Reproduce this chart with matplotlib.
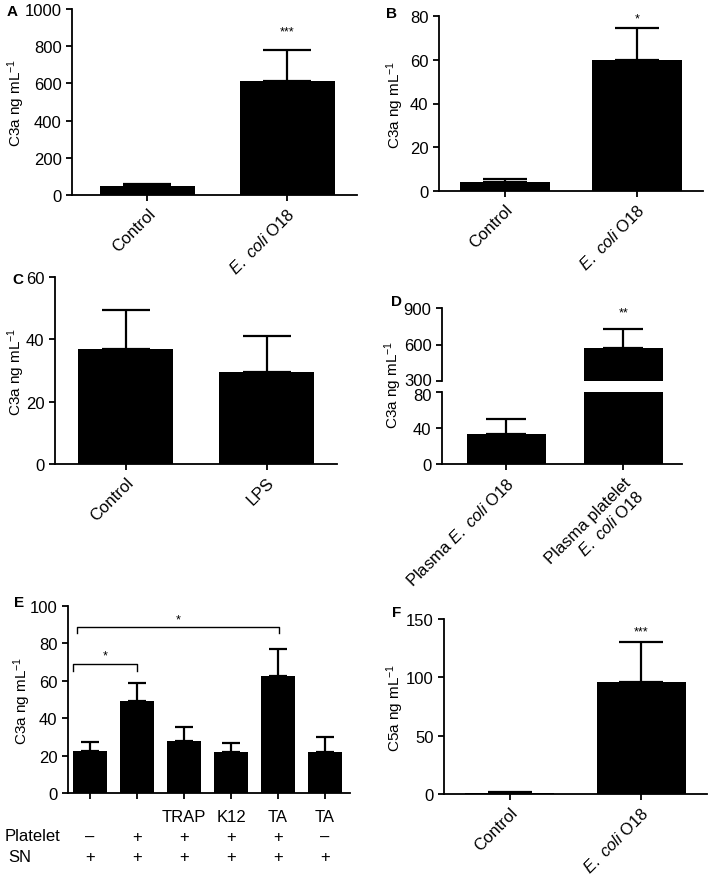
import matplotlib
matplotlib.use("Agg")
import matplotlib.pyplot as plt
from matplotlib.transforms import blended_transform_factory, ScaledTranslation

plt.rcParams['font.family'] = ['Liberation Sans', 'DejaVu Sans']
plt.rcParams['mathtext.fontset'] = 'custom'
plt.rcParams['mathtext.rm'] = 'Liberation Sans'
plt.rcParams['mathtext.it'] = 'Liberation Sans:italic'
plt.rcParams['font.size'] = 12
plt.rcParams['axes.linewidth'] = 1.3
plt.rcParams['xtick.major.width'] = 1.3
plt.rcParams['ytick.major.width'] = 1.3
plt.rcParams['xtick.major.size'] = 4
plt.rcParams['ytick.major.size'] = 4

# ---- data ----
ecoli = r"$\it{E.\ coli}$ O18"

a_labels = ['Control', ecoli]
a_vals = [50, 615]
a_errs = [8, 165]

b_labels = ['Control', ecoli]
b_vals = [4.2, 60]
b_errs = [1.5, 14.5]

c_labels = ['Control', 'LPS']
c_vals = [37, 29.5]
c_errs = [12.5, 11.5]

d_labels = [r"Plasma $\it{E.\ coli}$ O18", "Plasma platelet\n" + ecoli]
d_vals = [33, 570]
d_errs = [17, 160]

e_vals = [22.5, 49.3, 27.6, 22.1, 62.3, 21.7]
e_errs = [5.0, 9.5, 7.8, 4.9, 14.5, 8.5]
e_agent = ['', '', 'TRAP', 'K12', 'TA', 'TA']
e_platelet = ['–', '+', '+', '+', '+', '–']
e_sn = ['+', '+', '+', '+', '+', '+']

f_labels = ['Control', ecoli]
f_vals = [1, 96]
f_errs = [0.5, 34]

W, H = 709, 878
fig = plt.figure(figsize=(W / 100, H / 100), dpi=100)
YLFS = 11


def rect(left, right, top, bottom):
    return [left / W, 1 - bottom / H, (right - left) / W, (bottom - top) / H]


def style(ax):
    ax.spines['top'].set_visible(False)
    ax.spines['right'].set_visible(False)
    ax.tick_params(direction='out', labelsize=12)


def cap_pts(ax, width, xlim):
    px_per_unit = ax.get_position().width * W / (xlim[1] - xlim[0])
    return width / 4 * px_per_unit * 0.72


def draw_bars(ax, x, vals, errs, width, xlim):
    ax.bar(x, vals, width=width, color='black', zorder=2)
    ax.errorbar(x, vals, yerr=[[0] * len(vals), errs], fmt='none', ecolor='black',
                elinewidth=1.6, capthick=1.6, capsize=cap_pts(ax, width, xlim), zorder=1)


def place_ylabel(ax, text, xc):
    # xc: centre of the rotated label in figure pixels
    fig.text(xc / W, ax.get_position().y0 + ax.get_position().height / 2, text,
             rotation=90, ha='center', va='center', fontsize=YLFS)


def simple_panel(r, labels, vals, errs, ylim, yticks, ylabel, ylab_x, stars=None,
                 star_y=None, xlim=(-0.5, 1.5)):
    ax = fig.add_axes(r)
    style(ax)
    x = list(range(len(vals)))
    ax.set_xlim(*xlim)
    draw_bars(ax, x, vals, errs, 0.68, xlim)
    ax.set_ylim(*ylim)
    ax.set_yticks(yticks)
    ax.set_xticks(x)
    ax.set_xticklabels(labels, rotation=45, ha='right', rotation_mode='anchor')
    place_ylabel(ax, ylabel, ylab_x)
    if stars:
        ax.text(1, star_y, stars, ha='center', va='center', fontsize=9)
    return ax


ylab3 = "C3a ng mL$^{-1}$"

# A
axA = simple_panel(rect(72, 357, 10, 196), a_labels, a_vals, a_errs, (0, 1000),
                   [0, 200, 400, 600, 800, 1000], ylab3, 16, '***', 880, xlim=(-0.54, 1.5))
fig.text(7 / W, 1 - 12 / H, 'A', fontweight='bold', fontsize=11, va='center')

# B
axB = simple_panel(rect(439, 703, 17, 192), b_labels, b_vals, b_errs, (0, 80),
                   [0, 20, 40, 60, 80], ylab3, 395, '*', 79)
fig.text(386 / W, 1 - 14 / H, 'B', fontweight='bold', fontsize=11, va='center')

# C
axC = simple_panel(rect(55, 337, 278, 465), c_labels, c_vals, c_errs, (0, 60),
                   [0, 20, 40, 60], ylab3, 16)
fig.text(12 / W, 1 - 280 / H, 'C', fontweight='bold', fontsize=11, va='center')

# D (broken axis)
d_xlim = (-0.55, 1.5)
axDt = fig.add_axes(rect(442, 682, 309, 382))
axDb = fig.add_axes(rect(442, 682, 393, 465))
for ax in (axDt, axDb):
    style(ax)
    ax.set_xlim(*d_xlim)
axDt.spines['bottom'].set_visible(False)
axDt.tick_params(axis='x', bottom=False, labelbottom=False)
xd = list(range(len(d_vals)))
axDt.bar(xd, d_vals, width=0.68, color='black')
axDt.errorbar([1], [d_vals[1]], yerr=[[0], [d_errs[1]]], fmt='none', ecolor='black',
              elinewidth=1.6, capthick=1.6, capsize=cap_pts(axDt, 0.68, d_xlim))
axDt.set_ylim(300, 900)
axDt.set_yticks([300, 600, 900])
axDt.text(1, 865, '**', ha='center', va='center', fontsize=9)
axDb.bar(xd, d_vals, width=0.68, color='black')
axDb.errorbar([0], [d_vals[0]], yerr=[[0], [d_errs[0]]], fmt='none', ecolor='black',
              elinewidth=1.6, capthick=1.6, capsize=cap_pts(axDb, 0.68, d_xlim))
axDb.set_ylim(0, 80)
axDb.set_yticks([0, 40, 80])
axDb.set_xticks(xd)
axDb.set_xticklabels(d_labels, rotation=45, ha='right', rotation_mode='anchor')
# nudge the two labels at the break apart a little
lab300 = axDt.get_yticklabels()[0]
lab300.set_transform(lab300.get_transform() + ScaledTranslation(0, 2 / 100, fig.dpi_scale_trans))
lab80 = axDb.get_yticklabels()[-1]
lab80.set_transform(lab80.get_transform() + ScaledTranslation(0, -2 / 100, fig.dpi_scale_trans))
fig.text(393 / W, 1 - 385 / H, ylab3, rotation=90, ha='center', va='center', fontsize=YLFS)
fig.text(391 / W, 1 - 302 / H, 'D', fontweight='bold', fontsize=11, va='center')

# E
e_xlim = (-0.47, 5.53)
axE = fig.add_axes(rect(68, 350, 607, 794))
style(axE)
axE.set_xlim(*e_xlim)
xe = list(range(len(e_vals)))
draw_bars(axE, xe, e_vals, e_errs, 0.74, e_xlim)
axE.set_ylim(0, 100)
axE.set_yticks([0, 20, 40, 60, 80, 100])
axE.set_xticks(xe)
axE.set_xticklabels([])
place_ylabel(axE, ylab3, 22)
# significance brackets
axE.plot([-0.36, -0.36, 1.0, 1.0], [65.3, 68.9, 68.9, 65.3], color='black', lw=1.0, clip_on=False)
axE.text(0.32, 73.5, '*', ha='center', va='center', fontsize=9)
axE.plot([-0.28, -0.28, 4.02, 4.02], [85.8, 89.0, 89.0, 85.8], color='black', lw=1.0, clip_on=False)
axE.text(1.87, 93, '*', ha='center', va='center', fontsize=9)
tr = blended_transform_factory(axE.transData, axE.transAxes)
for i in xe:
    axE.text(i, -0.123, e_agent[i], transform=tr, ha='center', va='center', fontsize=12)
    axE.text(i, -0.23, e_platelet[i], transform=tr, ha='center', va='center', fontsize=12)
    axE.text(i, -0.342, e_sn[i], transform=tr, ha='center', va='center', fontsize=12)
fig.text(5 / W, 1 - 837 / H, 'Platelet', ha='left', va='center', fontsize=12)
fig.text(8 / W, 1 - 858 / H, 'SN', ha='left', va='center', fontsize=12)
fig.text(14 / W, 1 - 603 / H, 'E', fontweight='bold', fontsize=11, va='center')

# F
axF = simple_panel(rect(444, 707, 620, 795), f_labels, f_vals, f_errs, (0, 150),
                   [0, 50, 100, 150], "C5a ng mL$^{-1}$", 395, '***', 139)
fig.text(392 / W, 1 - 613 / H, 'F', fontweight='bold', fontsize=11, va='center')

fig.savefig("out.png", dpi=100)
